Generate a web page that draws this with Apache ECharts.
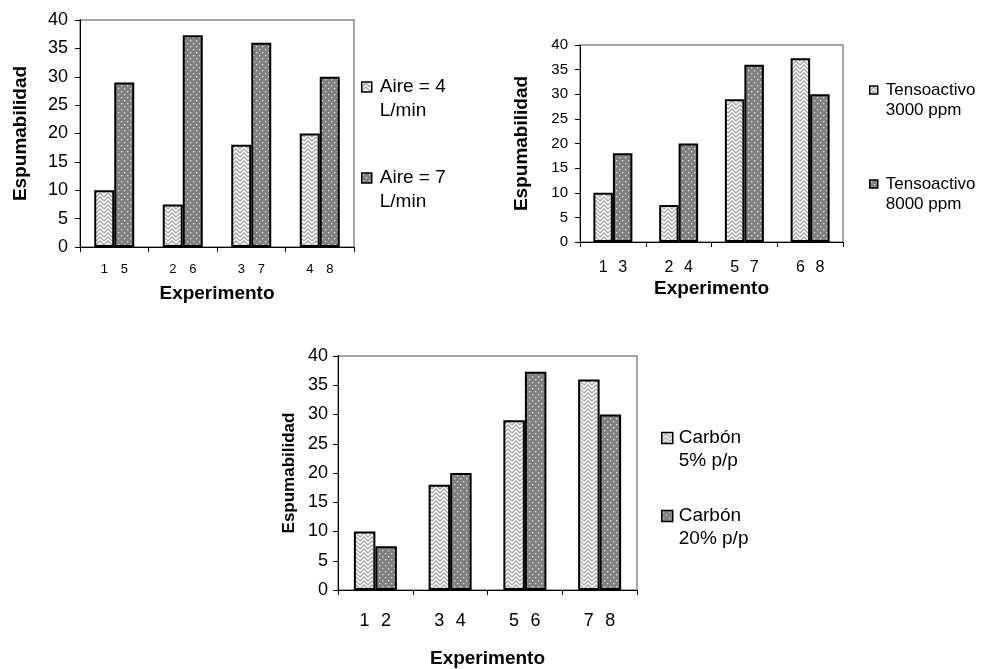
<!DOCTYPE html>
<html>
<head>
<meta charset="utf-8">
<script src="https://cdn.jsdelivr.net/npm/echarts@6/dist/echarts.min.js"></script>
<style>
html,body{margin:0;padding:0;background:#fff;}
#main{width:991px;height:669px;}
</style>
</head>
<body>
<div id="main"></div>
<script>
// espumabilidad por experimento
var cats1 = ['1 5', '2 6', '3 7', '4 8'];
var expA1 = [1, 2, 3, 4];
var expB1 = [5, 6, 7, 8];
var aire4 = [10, 7.5, 18, 20];
var aire7 = [29, 37.3, 36, 30];

var cats2 = ['1 3', '2 4', '5 7', '6 8'];
var expA2 = [1, 2, 5, 6];
var expB2 = [3, 4, 7, 8];
var tenso3000 = [10, 7.5, 29, 37.3];
var tenso8000 = [18, 20, 36, 30];

var cats3 = ['1 2', '3 4', '5 6', '7 8'];
var expA3 = [1, 3, 5, 7];
var expB3 = [2, 4, 6, 8];
var carbon5 = [10, 18, 29, 36];
var carbon20 = [7.5, 20, 37.3, 30];

var names1 = ['Aire = 4\nL/min', 'Aire = 7\nL/min'];
var names2 = ['Tensoactivo\n3000 ppm', 'Tensoactivo\n8000 ppm'];
var names3 = ['Carbón\n5% p/p', 'Carbón\n20% p/p'];

var FONT = 'Liberation Sans, Arial, sans-serif';

function zigzag() {
    var c = document.createElement('canvas');
    c.width = 8; c.height = 8;
    var g = c.getContext('2d');
    g.fillStyle = '#ffffff';
    g.fillRect(0, 0, 8, 8);
    g.strokeStyle = '#a4a4a4';
    g.lineWidth = 1.3;
    g.beginPath();
    g.moveTo(0, 5); g.lineTo(4, 1); g.lineTo(8, 5);
    g.moveTo(0, 9); g.lineTo(4, 5); g.lineTo(8, 9);
    g.moveTo(0, 1); g.lineTo(4, -3); g.lineTo(8, 1);
    g.stroke();
    return c;
}
function dots() {
    var c = document.createElement('canvas');
    c.width = 6; c.height = 6;
    var g = c.getContext('2d');
    g.fillStyle = '#808080';
    g.fillRect(0, 0, 6, 6);
    g.fillStyle = '#e4e4e4';
    g.fillRect(1, 1, 1.3, 1.3);
    g.fillRect(4, 4, 1.3, 1.3);
    return c;
}
var light = {image: zigzag(), repeat: 'repeat'};
var dark = {image: dots(), repeat: 'repeat'};

var chart = echarts.init(document.getElementById('main'));

function xAx(idx, cats, gap) {
    return {
        type: 'category', gridIndex: idx, data: cats,
        axisLine: {lineStyle: {color: '#000', width: 1}},
        axisTick: {show: true, length: 5, lineStyle: {color: '#000'}},
        axisLabel: {show: false},
        name: 'Experimento', nameLocation: 'middle', nameGap: gap,
        nameTextStyle: {fontFamily: FONT, fontWeight: 'bold', fontSize: 19, color: '#000'}
    };
}
function yAx(idx, fs, margin, gap, nfs) {
    return {
        type: 'value', gridIndex: idx, min: 0, max: 40, interval: 5,
        axisLine: {show: true, lineStyle: {color: '#000', width: 1}},
        axisTick: {show: true, length: 5, lineStyle: {color: '#000'}},
        splitLine: {show: false},
        axisLabel: {fontFamily: FONT, fontSize: fs, color: '#000', margin: margin},
        name: 'Espumabilidad', nameLocation: 'middle', nameGap: gap,
        nameTextStyle: {fontFamily: FONT, fontWeight: 'bold', fontSize: nfs, color: '#000'}
    };
}
function barSeries(name, idx, data, fill, bw, lbl, lfs, dist) {
    return {
        name: name, type: 'bar', xAxisIndex: idx, yAxisIndex: idx,
        data: data, barWidth: bw, barGap: '0%',
        itemStyle: {color: fill, borderColor: '#000', borderWidth: 2},
        label: {
            show: true, position: 'bottom', distance: dist,
            fontFamily: FONT, fontSize: lfs, color: '#000',
            formatter: function (p) { return String(lbl[p.dataIndex]); }
        },
        emphasis: {disabled: true}
    };
}
// icon sits beside the first line: a blank line is put above the name
function legendBox(names, left, iconY, gap, iw, fs, lh, padL) {
    return {
        orient: 'vertical', left: left, top: iconY - 1.5 * lh, itemGap: gap,
        padding: 0,
        itemWidth: iw, itemHeight: iw, icon: 'rect',
        data: names,
        formatter: function (n) { return ' \n' + n; },
        itemStyle: {borderColor: '#000', borderWidth: 1.5},
        textStyle: {fontFamily: FONT, fontSize: fs, lineHeight: lh, color: '#000', padding: [0, 0, 0, padL]}
    };
}

var option = {
    animation: false,
    backgroundColor: '#fff',
    grid: [
        {left: 80, top: 20, width: 274, height: 227, show: true, borderColor: '#888', borderWidth: 1.5},
        {left: 580, top: 45, width: 263, height: 197, show: true, borderColor: '#888', borderWidth: 1.5},
        {left: 338, top: 356, width: 299, height: 236, show: true, borderColor: '#888', borderWidth: 1.5}
    ],
    xAxis: [xAx(0, cats1, 37), xAx(1, cats2, 37), xAx(2, cats3, 59)],
    yAxis: [yAx(0, 18, 12, 50, 19), yAx(1, 15, 12, 49, 19), yAx(2, 18, 10, 40, 17)],
    legend: [
        legendBox(names1, 361, 87, 19, 10, 19, 24, 3),
        legendBox(names2, 869, 90, 34, 8, 17, 20, 3),
        legendBox(names3, 661, 438, 9, 11, 19, 23, 1)
    ],
    series: [
        barSeries(names1[0], 0, aire4, light, 20, expA1, 13, 16),
        barSeries(names1[1], 0, aire7, dark, 20, expB1, 13, 16),
        barSeries(names2[0], 1, tenso3000, light, 19.5, expA2, 16, 18),
        barSeries(names2[1], 1, tenso8000, dark, 19.5, expB2, 16, 18),
        barSeries(names3[0], 2, carbon5, light, 21.5, expA3, 18, 22),
        barSeries(names3[1], 2, carbon20, dark, 21.5, expB3, 18, 22)
    ]
};
chart.setOption(option);
</script>
</body>
</html>
